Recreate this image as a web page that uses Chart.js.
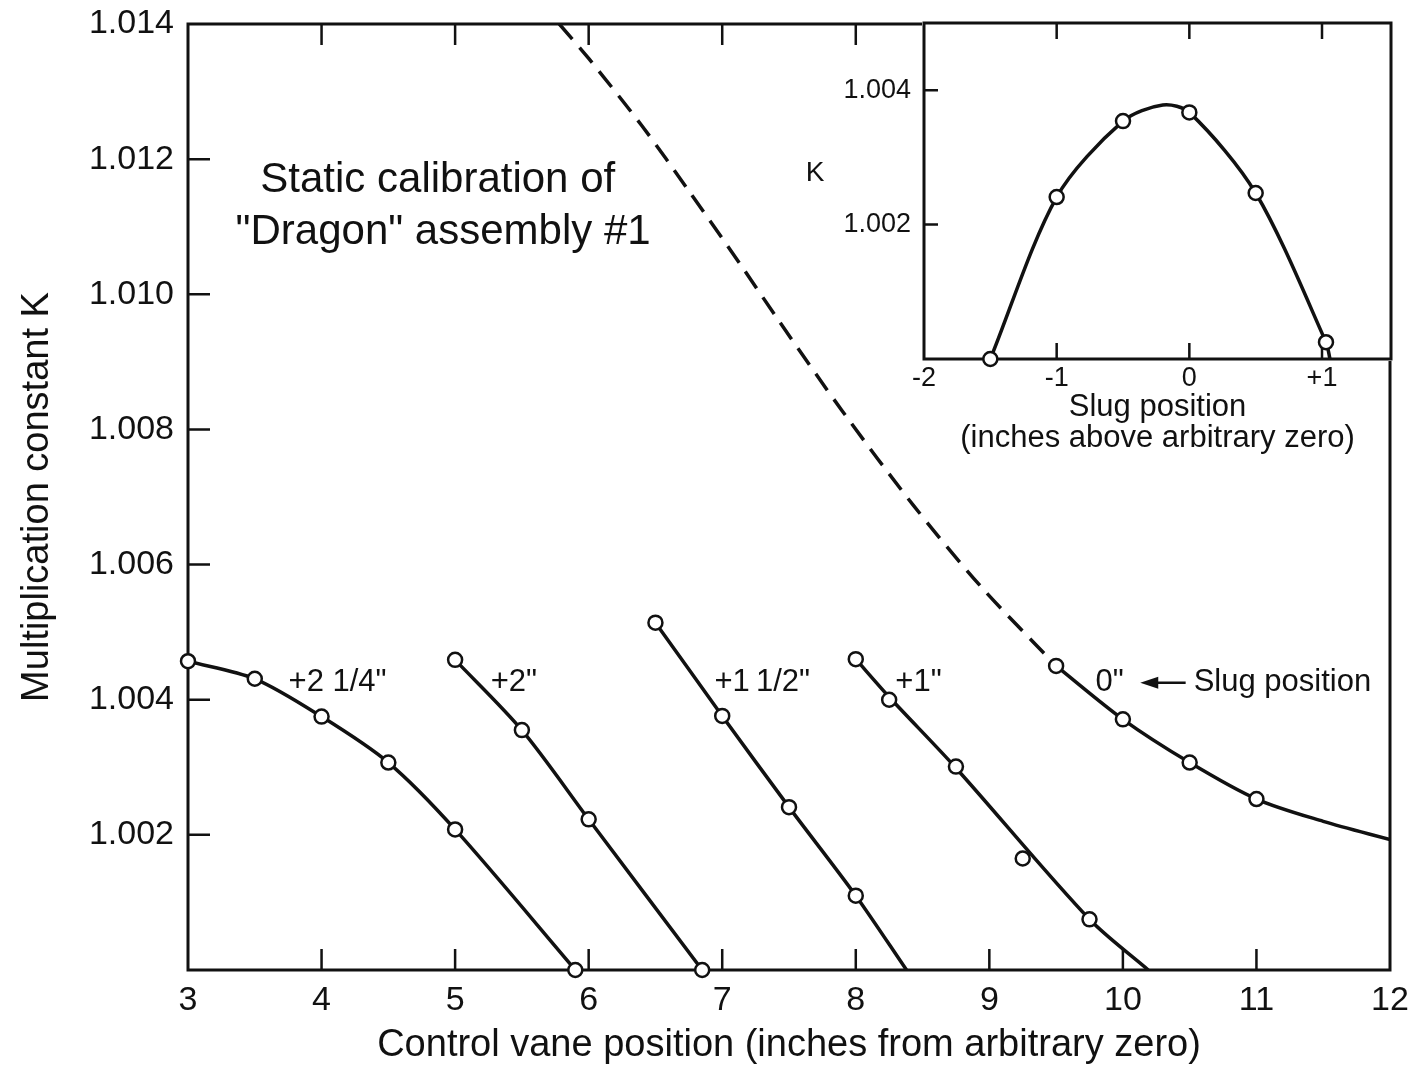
<!DOCTYPE html>
<html>
<head>
<meta charset="utf-8">
<script src="https://cdn.jsdelivr.net/npm/chart.js@4.4.1/dist/chart.umd.min.js"></script>
<style>
  html, body { margin: 0; padding: 0; background: #fff; }
  #wrap { position: relative; width: 1412px; height: 1069px; }
  #main { position: absolute; left: 0; top: 0; }
  #inset { position: absolute; left: 780px; top: 0; }
</style>
</head>
<body>
<div id="wrap">
  <canvas id="main" width="1412" height="1069"></canvas>
  <canvas id="inset" width="632" height="470"></canvas>
</div>
<script>
// Control vane position (inches) vs multiplication constant K, one set per slug position
const vane225 = [3, 3.5, 4, 4.5, 5, 5.9];
const k225 = [1.00457, 1.00431, 1.00375, 1.00307, 1.00208, 1.0000];

const vane200 = [5, 5.5, 6, 6.85];
const k200 = [1.00459, 1.00355, 1.00223, 1.0000];

const vane150 = [6.5, 7, 7.5, 8];
const k150 = [1.00514, 1.00376, 1.00241, 1.0011];
const fitVane150 = [6.5, 7, 7.5, 8, 8.38];
const fitK150 = [1.00514, 1.00376, 1.00241, 1.0011, 1.0000];

const vane100 = [8, 8.25, 8.75, 9.25, 9.75];
const k100 = [1.0046, 1.0040, 1.00301, 1.00165, 1.00075];
const fitVane100 = [8, 8.25, 8.75, 9.75, 10.19];
const fitK100 = [1.0046, 1.00404, 1.00299, 1.00075, 1.0000];

const vane000 = [9.5, 10, 10.5, 11];
const k000 = [1.0045, 1.00371, 1.00307, 1.00253];
const fitVane000 = [9.5, 10, 10.5, 11, 11.5, 12];
const fitK000 = [1.0045, 1.00371, 1.00307, 1.00253, 1.0022, 1.00193];

// extrapolated (dashed) part of the 0" curve
const dashVane = [5.78, 6.0, 6.4, 6.75, 7.13, 7.43, 7.9, 8.43, 8.93, 9.5];
const dashK = [1.0140, 1.01349, 1.01249, 1.01153, 1.01046, 1.00959, 1.00827, 1.00688, 1.00569, 1.0045];

const vaneTicks = [3, 4, 5, 6, 7, 8, 9, 10, 11, 12];
const kTicks = [1.000, 1.002, 1.004, 1.006, 1.008, 1.010, 1.012, 1.014];

// Inset: K vs slug position
const slugPos = [-1.5, -1, -0.5, 0, 0.5, 1.03];
const slugK = [1.0000, 1.00241, 1.00354, 1.00367, 1.00247, 1.00025];
const fitSlugPos = [-1.5, -1, -0.5, -0.2, 0, 0.5, 1.03, 1.06];
const fitSlugK = [1.0000, 1.00241, 1.00354, 1.00378, 1.00367, 1.00247, 1.00025, 1.0000];
const slugTicks = [-2, -1, 0, 1];
const slugKTicks = [1.002, 1.004];

const FONT = '"Liberation Sans", Arial, Helvetica, sans-serif';
const INK = '#111';

function pts(xs, ys) {
  return xs.map(function (x, i) { return { x: x, y: ys[i] }; });
}

function curve(xs, ys, dash) {
  return {
    data: pts(xs, ys),
    borderColor: INK,
    borderWidth: 3.5,
    borderDash: dash || [],
    pointRadius: 0,
    tension: 0.3,
    fill: false,
    order: 2
  };
}

function marks(xs, ys) {
  return {
    data: pts(xs, ys),
    showLine: false,
    pointRadius: 7,
    pointBorderWidth: 2.5,
    pointBackgroundColor: "#fff",
    pointBorderColor: INK,
    clip: false,
    order: 1
  };
}

function fixedTicks(list) {
  return function (scale) {
    scale.ticks = list.map(function (v) { return { value: v }; });
  };
}

// keep the plot box exactly where the layout padding puts it
function fixWidth(w) {
  return function (s) { s.width = w; s.paddingTop = 0; s.paddingBottom = 0; };
}
function fixHeight(h) {
  return function (s) { s.height = h; s.paddingLeft = 0; s.paddingRight = 0; };
}

// Frame + inward tick marks (drawn under the data so circles sit on top)
const framePlugin = {
  id: "frame",
  beforeDraw(chart, args, o) {
    if (!o.fillArea) return;
    const a = chart.chartArea;
    chart.ctx.save();
    chart.ctx.fillStyle = "#fff";
    chart.ctx.fillRect(a.left - 2, a.top - 2, a.right - a.left + 4, a.bottom - a.top + 4);
    chart.ctx.restore();
  },
  beforeDatasetsDraw(chart, args, o) {
    const ctx = chart.ctx, a = chart.chartArea;
    const x = chart.scales.x, y = chart.scales.y;
    ctx.save();
    ctx.strokeStyle = INK;
    ctx.lineWidth = 2.5;
    ctx.beginPath();
    o.xTicks.forEach(function (v) {
      const px = x.getPixelForValue(v);
      ctx.moveTo(px, a.bottom); ctx.lineTo(px, a.bottom - o.xLen);
      ctx.moveTo(px, a.top); ctx.lineTo(px, a.top + o.xLen);
    });
    o.yTicks.forEach(function (v) {
      const py = y.getPixelForValue(v);
      ctx.moveTo(a.left, py); ctx.lineTo(a.left + o.yLen, py);
    });
    ctx.stroke();
    ctx.lineWidth = 3;
    ctx.strokeRect(a.left, a.top, a.right - a.left, a.bottom - a.top);
    ctx.restore();
  }
};

// Free text placed in data coordinates
const notesPlugin = {
  id: "notes",
  afterDraw(chart, args, o) {
    const ctx = chart.ctx, x = chart.scales.x, y = chart.scales.y;
    ctx.save();
    ctx.fillStyle = INK;
    ctx.strokeStyle = INK;
    ctx.textBaseline = "middle";
    (o.items || []).forEach(function (n) {
      ctx.font = n.size + "px " + FONT;
      ctx.textAlign = n.align || "center";
      ctx.fillText(n.text, x.getPixelForValue(n.x), y.getPixelForValue(n.y));
    });
    (o.arrows || []).forEach(function (r) {
      const x0 = x.getPixelForValue(r.from), x1 = x.getPixelForValue(r.to);
      const py = y.getPixelForValue(r.y);
      ctx.lineWidth = 2.5;
      ctx.beginPath();
      ctx.moveTo(x0, py); ctx.lineTo(x1 + 10, py);
      ctx.stroke();
      ctx.beginPath();
      ctx.moveTo(x1, py); ctx.lineTo(x1 + 18, py - 6); ctx.lineTo(x1 + 18, py + 6);
      ctx.closePath();
      ctx.fill();
    });
    ctx.restore();
  }
};

new Chart(document.getElementById("main"), {
  type: "line",
  data: {
    datasets: [
      curve(vane225, k225),
      curve(vane200, k200),
      curve(fitVane150, fitK150),
      curve(fitVane100, fitK100),
      curve(fitVane000, fitK000),
      curve(dashVane, dashK, [20, 11]),
      marks(vane225, k225),
      marks(vane200, k200),
      marks(vane150, k150),
      marks(vane100, k100),
      marks(vane000, k000)
    ]
  },
  options: {
    responsive: false,
    animation: false,
    events: [],
    layout: { autoPadding: false, padding: { left: 0, right: 22, top: 24, bottom: 0 } },
    plugins: {
      legend: { display: false },
      tooltip: { enabled: false },
      frame: { xTicks: [4, 5, 6, 7, 8, 9, 10, 11], yTicks: [1.002, 1.004, 1.006, 1.008, 1.010, 1.012], xLen: 21, yLen: 22 },
      notes: {
        items: [
          { text: "Static calibration of", x: 4.87, y: 1.01169, size: 42 },
          { text: "\"Dragon\" assembly #1", x: 4.91, y: 1.01092, size: 42 },
          { text: "+2 1/4\"", x: 4.12, y: 1.00425, size: 31 },
          { text: "+2\"", x: 5.44, y: 1.00425, size: 31 },
          { text: "+1\u20091/2\"", x: 7.3, y: 1.00425, size: 31 },
          { text: "+1\"", x: 8.47, y: 1.00425, size: 31 },
          { text: "0\"", x: 9.9, y: 1.00425, size: 31 },
          { text: "Slug position", x: 10.53, y: 1.00425, size: 31, align: "left" }
        ],
        arrows: [{ from: 10.47, to: 10.13, y: 1.00425 }]
      }
    },
    scales: {
      x: {
        type: "linear",
        min: 3,
        max: 12,
        afterBuildTicks: fixedTicks(vaneTicks),
        afterFit: fixHeight(99),
        grid: { display: false, drawTicks: false },
        border: { display: false },
        ticks: { color: INK, font: { family: FONT, size: 34 }, padding: 10, maxRotation: 0, callback: function (v) { return String(v); } },
        title: {
          display: true,
          text: "Control vane position (inches from arbitrary zero)",
          color: INK,
          font: { family: FONT, size: 38, lineHeight: 1.2 },
          padding: { top: 0, bottom: 1 }
        }
      },
      y: {
        type: "linear",
        min: 1.000,
        max: 1.014,
        afterBuildTicks: fixedTicks(kTicks),
        afterFit: fixWidth(188),
        grid: { display: false, drawTicks: false },
        border: { display: false },
        ticks: {
          color: INK,
          font: { family: FONT, size: 34 },
          padding: 14,
          callback: function (v) { return v < 1.0005 ? "" : v.toFixed(3); }
        },
        title: {
          display: true,
          text: "Multiplication constant K",
          color: INK,
          font: { family: FONT, size: 38, lineHeight: 1.2 },
          padding: { top: 15, bottom: 0 }
        }
      }
    }
  },
  plugins: [framePlugin, notesPlugin]
});

new Chart(document.getElementById("inset"), {
  type: "line",
  data: {
    datasets: [
      curve(fitSlugPos, fitSlugK),
      marks(slugPos, slugK)
    ]
  },
  options: {
    responsive: false,
    animation: false,
    events: [],
    layout: { autoPadding: false, padding: { left: 0, right: 21, top: 23, bottom: 0 } },
    plugins: {
      legend: { display: false },
      tooltip: { enabled: false },
      frame: { fillArea: true, xTicks: [-1, 0, 1], yTicks: [1.002, 1.004], xLen: 16, yLen: 14 },
      notes: { items: [{ text: "K", x: -2.82, y: 1.00276, size: 28 }] }
    },
    scales: {
      x: {
        type: "linear",
        min: -2,
        max: 1.52,
        afterBuildTicks: fixedTicks(slugTicks),
        afterFit: fixHeight(111),
        grid: { display: false, drawTicks: false },
        border: { display: false },
        ticks: {
          color: INK,
          font: { family: FONT, size: 27 },
          padding: 3,
          maxRotation: 0,
          callback: function (v) { return v > 0 ? "+" + v : String(v); }
        },
        title: {
          display: true,
          text: ["Slug position", "(inches above arbitrary zero)"],
          color: INK,
          font: { family: FONT, size: 31, lineHeight: 1.0 },
          padding: { top: 0, bottom: 16 }
        }
      },
      y: {
        type: "linear",
        min: 1.000,
        max: 1.005,
        afterBuildTicks: fixedTicks(slugKTicks),
        afterFit: fixWidth(144),
        grid: { display: false, drawTicks: false },
        border: { display: false },
        ticks: {
          color: INK,
          font: { family: FONT, size: 27 },
          padding: 13,
          callback: function (v) { return v.toFixed(3); }
        }
      }
    }
  },
  plugins: [framePlugin, notesPlugin]
});
</script>
</body>
</html>
